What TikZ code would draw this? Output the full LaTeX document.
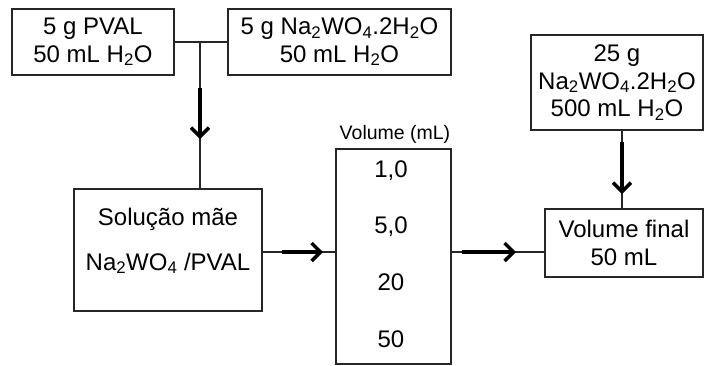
\documentclass[tikz,border=0pt]{standalone}
\usepackage{fontspec}
\setmainfont{Liberation Sans}
\usetikzlibrary{arrows.meta, calc}
\tikzset{
    box/.style={rectangle, draw=black!85, line width=1.4pt, align=center, inner sep=0pt},
    link/.style={line width=1.3pt, draw=black!85},
    heavy/.style={line width=3.4pt, draw=black, -{Straight Barb[length=9pt,width=18pt,line width=3.4pt]}}
}

\begin{document}
\begin{tikzpicture}[x=1pt, y=-1pt, font=\fontsize{24}{27.5}\selectfont]
    \useasboundingbox (0,0) rectangle (705,365);
    \node (pval) [box, minimum width=162pt, minimum height=66pt] at (93,42) {5 g PVAL\\50 mL H\textsubscript{2}O};
    \node (tung) [box, minimum width=223pt, minimum height=66pt] at (339.5,42) {5 g Na\textsubscript{2}WO\textsubscript{4}.2H\textsubscript{2}O\\50 mL H\textsubscript{2}O};
    \node (stock) [box, minimum width=172pt, minimum height=95pt] at (617,82.5) {25 g\\Na\textsubscript{2}WO\textsubscript{4}.2H\textsubscript{2}O\\500 mL H\textsubscript{2}O};
    \node (sol) [box, minimum width=188pt, minimum height=122pt] at (168,250) {};
    \node (soltext) [align=center, yshift=9pt] at (sol.center) {Solução mãe\\[17pt]Na\textsubscript{2}WO\textsubscript{4} /PVAL};
    \node (vol) [box, minimum width=115pt, minimum height=215pt] at (393.5,256.5) {};
    \node (voltitle) [font=\fontsize{19.5}{22}\selectfont, anchor=base] at (395,139) {Volume (mL)};
    \foreach \val/\yb [count=\i] in {{1,0}/177, {5,0}/233, 20/290, 50/347}
        \node (v\i) [anchor=base] at (391,\yb) {\val};
    \node (final) [box, minimum width=158pt, minimum height=68pt] at (624,243) {Volume final\\50 mL};

    % mixing the two solutions
    \coordinate (join) at (200,42);
    \draw [link] (pval.east) -- (tung.west);
    \draw [link] (join) -- (join |- sol.north);
    \coordinate (a1s) at (200,88);
    \coordinate (a1e) at (200,139);
    \draw [heavy] (a1s) -- (a1e);

    % dilution steps
    \coordinate (row) at (0,252);
    \draw [link] (sol.east |- row) -- (vol.west |- row);
    \coordinate (a2s) at (282,252);
    \coordinate (a2e) at (323,252);
    \draw [heavy] (a2s) -- (a2e);
    \draw [link] (vol.east |- row) -- (final.west |- row);
    \coordinate (a3s) at (462,252);
    \coordinate (a3e) at (516,252);
    \draw [heavy] (a3s) -- (a3e);

    % tungstate addition
    \coordinate (drop) at (622,0);
    \draw [link] (drop |- stock.south) -- (drop |- final.north);
    \coordinate (a4s) at (622,142);
    \coordinate (a4e) at (622,194);
    \draw [heavy] (a4s) -- (a4e);
\end{tikzpicture}
\end{document}
